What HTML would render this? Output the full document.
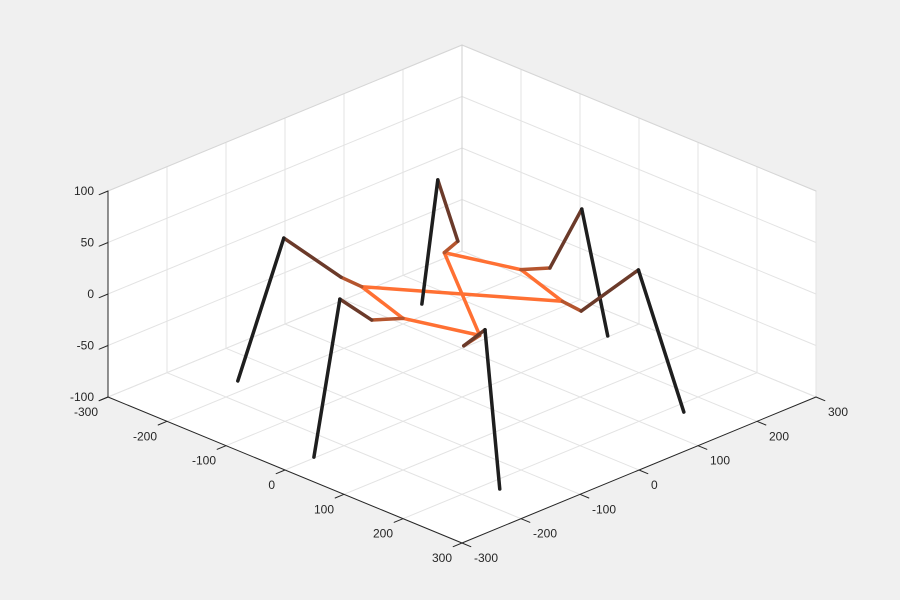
<!DOCTYPE html>
<html><head><meta charset="utf-8"><style>
html,body{margin:0;padding:0;background:#f0f0f0;}
svg{display:block;font-family:"Liberation Sans",sans-serif;}
</style></head><body>
<svg id="chart" width="900" height="600" viewBox="0 0 900 600"></svg>
<script>
const xTicks=[-300,-200,-100,0,100,200,300];
const yTicks=[-300,-200,-100,0,100,200,300];
const zTicks=[-100,-50,0,50,100];
// body hip points (x,y,z), drawn in order and closed
const bodyX=[-100,0,100,-100,0,100];
const bodyY=[70,100,70,-70,-100,-70];
const bodyZ=[0,0,0,0,0,0];
// coxa ends
const coxaX=[-112,21,136,-137,-23,108];
const coxaY=[105,128,66,-68,-130,-105];
const coxaZ=[0,0,0,0,0,0];
// femur ends (knees)
const kneeX=[-128,54,227,-139,34,220];
const kneeY=[87,149,72,-163,-241,-181];
const kneeZ=[60,60,60,60,60,60];
// feet
const footX=[-225,-2,219,-223,-2,221];
const footY=[157,249,157,-157,-249,-157];
const footZ=[-100,-100,-100,-100,-100,-100];

const svg=document.getElementById('chart');
const NS='http://www.w3.org/2000/svg';
function P(x,y,z){return [462+0.59*(x+y), 294-1.03*z+146*(x-y)/600];}
function line(p,q,stroke,w,name){
  const l=document.createElementNS(NS,'line');
  l.setAttribute('x1',p[0]);l.setAttribute('y1',p[1]);l.setAttribute('x2',q[0]);l.setAttribute('y2',q[1]);
  l.setAttribute('stroke',stroke);l.setAttribute('stroke-width',w);l.setAttribute('stroke-linecap','round');
  
  
  svg.appendChild(l);return l;
}
function text(x,y,s,anchor,name){
  const t=document.createElementNS(NS,'text');
  t.setAttribute('x',x);t.setAttribute('y',y);t.setAttribute('text-anchor',anchor);
  t.setAttribute('font-size','12');t.setAttribute('fill','#262626');t.textContent=s;
  
  
  svg.appendChild(t);
}
// white box background
const pts=[P(-300,300,100),P(-300,-300,100),P(-300,-300,-100),P(300,-300,-100),P(300,300,-100),P(300,300,100)];
const bg=document.createElementNS(NS,'polygon');
bg.setAttribute('points',pts.map(p=>p.join(',')).join(' '));
bg.setAttribute('fill','#ffffff');


svg.appendChild(bg);
const G='#e3e3e3';
// floor grid
xTicks.forEach(x=>line(P(x,-300,-100),P(x,300,-100),G,1,'floor-grid-x'));
yTicks.forEach(y=>line(P(-300,y,-100),P(300,y,-100),G,1,'floor-grid-y'));
// back wall x=-300
yTicks.forEach(y=>line(P(-300,y,-100),P(-300,y,100),G,1,'wall-grid-y'));
zTicks.forEach(z=>line(P(-300,-300,z),P(-300,300,z),G,1,'wall-grid-z'));
// back wall y=300
xTicks.forEach(x=>line(P(x,300,-100),P(x,300,100),G,1,'wall-grid-x'));
zTicks.forEach(z=>line(P(-300,300,z),P(300,300,z),G,1,'wall-grid-z2'));
// top edges
line(P(-300,-300,100),P(-300,300,100),'#d6d6d6',1,'box-edge');
line(P(-300,300,100),P(300,300,100),'#d6d6d6',1,'box-edge');
line(P(-300,300,-100),P(-300,300,100),'#cfcfcf',1,'box-edge');
// axes
const A='#262626';
line(P(-300,-300,-100),P(300,-300,-100),A,1,'x-axis');
line(P(300,-300,-100),P(300,300,-100),A,1,'y-axis');
line(P(-300,-300,-100),P(-300,-300,100),A,1,'z-axis');
xTicks.forEach(x=>{const p=P(x,-300,-100);line(p,P(x,-315,-100),A,1,'x-tick');text(p[0]-10,p[1]+19,String(x),'end','x-tick-label');});
yTicks.forEach(y=>{const p=P(300,y,-100);line(p,P(315,y,-100),A,1,'y-tick');text(p[0]+12,p[1]+19,String(y),'start','y-tick-label');});
zTicks.forEach(z=>{const p=P(-300,-300,z);line(p,P(-285,-300,z).map((v,i)=>i==0?2*p[0]-v:v),A,1,'z-tick');text(p[0]-14,p[1]+4,String(z),'end','z-tick-label');});
// robot
const n=bodyX.length;
for(let i=0;i<n;i++){
  const j=(i+1)%n;
  line(P(bodyX[i],bodyY[i],bodyZ[i]),P(bodyX[j],bodyY[j],bodyZ[j]),'#ff7033',3.5,'body-segment');
}
for(let i=0;i<n;i++){
  const h=P(bodyX[i],bodyY[i],bodyZ[i]),c=P(coxaX[i],coxaY[i],coxaZ[i]),k=P(kneeX[i],kneeY[i],kneeZ[i]),f=P(footX[i],footY[i],footZ[i]);
  line(h,c,'#b5552e',3.5,'coxa-'+(i+1));
  line(c,k,'#6b3a2a',3.5,'femur-'+(i+1));
  line(k,f,'#1e1e1e',3.5,'tibia-'+(i+1));
}
</script>
</body></html>
